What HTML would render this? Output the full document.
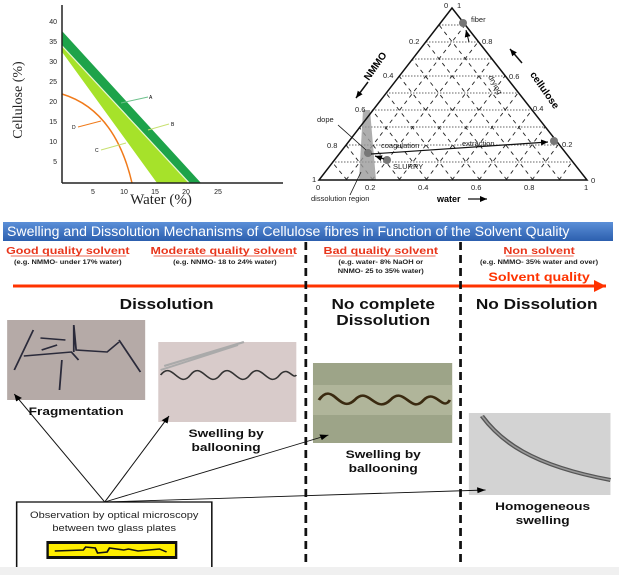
<!DOCTYPE html>
<html><head><meta charset="utf-8"><style>
html,body{margin:0;padding:0;background:#fff;}
svg{display:block;font-family:"Liberation Sans",sans-serif;}
</style></head><body>
<svg width="619" height="575" viewBox="0 0 619 575" xmlns="http://www.w3.org/2000/svg">
<defs>
<linearGradient id="hb" x1="0" y1="0" x2="0" y2="1"><stop offset="0" stop-color="#5b8fd8"/><stop offset="1" stop-color="#2c5fae"/></linearGradient>
<marker id="ah" markerWidth="8" markerHeight="8" refX="7" refY="4" orient="auto" markerUnits="userSpaceOnUse"><path d="M0,1 L7,4 L0,7 z" fill="#000"/></marker>
<marker id="ar" markerWidth="14" markerHeight="12" refX="12" refY="6" orient="auto" markerUnits="userSpaceOnUse"><path d="M0,0 L12,6 L0,12 z" fill="#ff3300"/></marker>
</defs>

<!-- Left chart -->
<polygon points="62,31 201,183 190,183 62,45" fill="#1ea34a"/>
<polygon points="62,46 189,183 157,183 62,52" fill="#a6e22a"/>
<line x1="62" y1="46" x2="189" y2="183" stroke="#e8f5c8" stroke-width="1"/>
<line x1="62" y1="53" x2="156" y2="183" stroke="#fff" stroke-width="1"/>
<path d="M62,94 Q115,110 132,183" fill="none" stroke="#f07a1a" stroke-width="1.5"/>
<line x1="62" y1="5" x2="62" y2="183" stroke="#222" stroke-width="1.5"/>
<line x1="62" y1="183" x2="283" y2="183" stroke="#222" stroke-width="1.5"/>
<g font-size="7" fill="#222" text-anchor="end">
<text x="57" y="24">40</text><text x="57" y="44">35</text><text x="57" y="64">30</text><text x="57" y="84">25</text><text x="57" y="104">20</text><text x="57" y="124">15</text><text x="57" y="144">10</text><text x="57" y="164">5</text>
</g>
<g font-size="7" fill="#222" text-anchor="middle">
<text x="93" y="194">5</text><text x="124" y="194">10</text><text x="155" y="194">15</text><text x="186" y="194">20</text><text x="218" y="194">25</text>
</g>
<text x="161" y="204" font-family="Liberation Serif,serif" font-size="15" text-anchor="middle" fill="#222">Water (%)</text>
<text transform="translate(22,100) rotate(-90)" font-family="Liberation Serif,serif" font-size="14" text-anchor="middle" fill="#222">Cellulose (%)</text>
<line x1="121" y1="103" x2="148" y2="97" stroke="#6cc08a"/><text x="149" y="99" font-size="5">A</text>
<line x1="148" y1="130" x2="169" y2="124" stroke="#c8e070"/><text x="171" y="126" font-size="5">B</text>
<line x1="78" y1="127" x2="101" y2="121" stroke="#f07a1a"/><text x="72" y="129" font-size="5">D</text>
<line x1="101" y1="150" x2="126" y2="143" stroke="#c8e070"/><text x="95" y="152" font-size="5">C</text>

<!-- Ternary -->
<g stroke="#333" stroke-width="0.7" stroke-dasharray="1.5,1.5" fill="none">
<line x1="439" y1="25" x2="465" y2="25"/><line x1="426" y1="42" x2="478" y2="42"/><line x1="412" y1="59" x2="492" y2="59"/><line x1="399" y1="76" x2="505" y2="76"/><line x1="386" y1="93" x2="518" y2="93"/><line x1="372" y1="110" x2="532" y2="110"/><line x1="359" y1="127" x2="545" y2="127"/><line x1="346" y1="145" x2="558" y2="145"/><line x1="332" y1="162" x2="572" y2="162"/>
</g>
<g stroke="#222" stroke-width="0.9" stroke-dasharray="4,4" fill="none">
<line x1="346" y1="180" x2="465" y2="25"/><line x1="372" y1="180" x2="478" y2="42"/><line x1="399" y1="180" x2="492" y2="59"/><line x1="426" y1="180" x2="505" y2="76"/><line x1="452" y1="180" x2="518" y2="93"/><line x1="479" y1="180" x2="532" y2="110"/><line x1="506" y1="180" x2="545" y2="127"/><line x1="532" y1="180" x2="558" y2="145"/><line x1="559" y1="180" x2="572" y2="162"/>
<line x1="560" y1="180" x2="439" y2="25"/><line x1="533" y1="180" x2="426" y2="42"/><line x1="507" y1="180" x2="412" y2="59"/><line x1="480" y1="180" x2="399" y2="76"/><line x1="453" y1="180" x2="386" y2="93"/><line x1="427" y1="180" x2="372" y2="110"/><line x1="400" y1="180" x2="359" y2="127"/><line x1="373" y1="180" x2="346" y2="145"/><line x1="347" y1="180" x2="332" y2="162"/>
</g>
<polygon points="363,110 370,110 376,180 359,180" fill="#9a9a9a" opacity="0.8"/>
<polygon points="452,8 319,180 587,180" fill="none" stroke="#111" stroke-width="1.5"/>
<circle cx="463" cy="23" r="4" fill="#777"/><circle cx="554" cy="141" r="4" fill="#777"/><circle cx="368" cy="153" r="4" fill="#777"/><circle cx="387" cy="160" r="4" fill="#777"/>
<line x1="371" y1="154" x2="548" y2="142" stroke="#111" stroke-width="1.2" marker-end="url(#ah)"/>
<line x1="384" y1="159" x2="375" y2="156" stroke="#111" stroke-width="1.2" marker-end="url(#ah)"/>
<line x1="469" y1="42" x2="466" y2="30" stroke="#111" stroke-width="1" marker-end="url(#ah)"/>
<line x1="338" y1="125" x2="366" y2="150" stroke="#111" stroke-width="0.8"/>
<line x1="350" y1="195" x2="361" y2="172" stroke="#111" stroke-width="0.8"/>
<g font-size="7.5" fill="#222">
<text x="444" y="8">0</text><text x="457" y="8">1</text><text x="471" y="22">fiber</text>
<text x="409" y="44">0.2</text><text x="482" y="44">0.8</text>
<text x="383" y="78">0.4</text><text x="509" y="79">0.6</text>
<text x="355" y="112">0.6</text><text x="533" y="111">0.4</text>
<text x="327" y="148">0.8</text><text x="562" y="147">0.2</text>
<text x="312" y="182">1</text><text x="591" y="183">0</text>
<text x="316" y="190">0</text><text x="365" y="190">0.2</text><text x="418" y="190">0.4</text><text x="471" y="190">0.6</text><text x="524" y="190">0.8</text><text x="584" y="190">1</text>
<text x="317" y="122">dope</text><text x="381" y="148">coagulation</text><text x="462" y="146">extraction</text><text x="393" y="169">SLURRY</text>
<text x="311" y="201">dissolution region</text>
<text transform="translate(488,77) rotate(60)">drying</text>
</g>
<text x="437" y="202" font-size="9" font-weight="bold">water</text>
<line x1="468" y1="199" x2="487" y2="199" stroke="#111" stroke-width="1.2" marker-end="url(#ah)"/>
<text transform="translate(378,68) rotate(-55)" font-size="10" font-weight="bold" text-anchor="middle">NMMO</text>
<line x1="368" y1="82" x2="356" y2="98" stroke="#111" stroke-width="1.5" marker-end="url(#ah)"/>
<text transform="translate(542,92) rotate(55)" font-size="10" font-weight="bold" text-anchor="middle">cellulose</text>
<line x1="522" y1="63" x2="510" y2="49" stroke="#111" stroke-width="1.5" marker-end="url(#ah)"/>

<!-- Header bar -->
<rect x="3" y="222" width="610" height="19" fill="url(#hb)"/>
<text x="7" y="236" font-size="14.1" fill="#fff">Swelling and Dissolution Mechanisms of Cellulose fibres in Function of the Solvent Quality</text>
<line x1="13" y1="286" x2="606" y2="286" stroke="#ff3300" stroke-width="3" marker-end="url(#ar)"/>

<g transform="matrix(1.19,0,0,1,0,0)">
<g font-size="10.5" font-weight="bold" fill="#e8361c" text-anchor="middle">
<text x="57" y="254">Good quality solvent</text>
<text x="188" y="254">Moderate quality solvent</text>
<text x="320" y="254">Bad quality solvent</text>
<text x="453" y="254">Non solvent</text>
</g>
<g stroke="#e8361c" stroke-width="0.8"><line x1="9" y1="256" x2="106" y2="256"/><line x1="129" y1="256" x2="247" y2="256"/><line x1="274" y1="256" x2="366" y2="256"/><line x1="425" y1="256" x2="482" y2="256"/></g>
<g font-size="6.3" font-weight="bold" fill="#222" text-anchor="middle">
<text x="57" y="264">(e.g. NMMO- under 17% water)</text>
<text x="189" y="264">(e.g. NNMO- 18 to 24% water)</text>
<text x="320" y="264">(e.g. water- 8% NaOH or</text>
<text x="320" y="273">NNMO- 25 to 35% water)</text>
<text x="453" y="264">(e.g. NMMO- 35% water and over)</text>
</g>
<text x="453" y="281" font-size="12" font-weight="bold" fill="#ff3300" text-anchor="middle">Solvent quality</text>

<g stroke="#111" stroke-width="2.3" stroke-dasharray="8,5"><line x1="257" y1="242" x2="257" y2="565"/><line x1="387" y1="242" x2="387" y2="565"/></g>

<g font-size="14.5" font-weight="bold" fill="#111" text-anchor="middle">
<text x="140" y="309">Dissolution</text>
<text x="322" y="309">No complete</text>
<text x="322" y="325">Dissolution</text>
<text x="451" y="309">No Dissolution</text>
</g>

<rect x="6" y="320" width="116" height="80" fill="#b5aaa7"/>
<g stroke="#2a2a3a" stroke-width="1.5" fill="none">
<path d="M12,370 L28,330 M20,356 L60,352 L66,360 M34,338 L55,340 M62,352 L62,325 L64,350 L90,352 L100,342 M52,360 L50,390 M100,340 L118,372 M35,350 L48,345"/>
</g>
<rect x="133" y="342" width="116" height="80" fill="#d8cbca"/>
<path d="M135,375 C145,360 150,390 160,375 C170,360 175,390 185,375 C195,360 200,390 210,375 C220,360 225,390 235,375 C242,365 246,380 249,375" fill="none" stroke="#333" stroke-width="1.5"/>
<path d="M135,370 L200,345 M138,366 L205,342" stroke="#aaa" stroke-width="2" fill="none"/>
<rect x="263" y="363" width="117" height="80" fill="#9da488"/>
<rect x="263" y="385" width="117" height="30" fill="#b0b59a"/>
<path d="M268,400 C280,380 285,415 298,400 C310,385 315,415 328,400 C340,385 345,415 356,400 C366,388 372,412 378,400" fill="none" stroke="#3a2a10" stroke-width="2.5"/>
<rect x="394" y="413" width="119" height="82" fill="#d3d3d3"/>
<path d="M405,416 C420,440 445,465 513,480" fill="none" stroke="#555" stroke-width="4"/>
<path d="M405,416 C420,440 445,465 513,480" fill="none" stroke="#999" stroke-width="1.5"/>

<g font-size="11.5" font-weight="bold" fill="#111" text-anchor="middle">
<text x="64" y="415">Fragmentation</text>
<text x="190" y="437">Swelling by</text><text x="190" y="451">ballooning</text>
<text x="322" y="458">Swelling by</text><text x="322" y="472">ballooning</text>
<text x="456" y="510">Homogeneous</text><text x="456" y="524">swelling</text>
</g>

<g stroke="#111" stroke-width="0.9" marker-end="url(#ah)">
<line x1="88" y1="502" x2="12" y2="394"/>
<line x1="88" y1="502" x2="142" y2="416"/>
<line x1="88" y1="502" x2="276" y2="435"/>
<line x1="88" y1="502" x2="408" y2="490"/>
</g>

<rect x="14" y="502" width="164" height="70" fill="#fff" stroke="#111" stroke-width="1.3"/>
<text x="96" y="518" font-size="9.3" fill="#222" text-anchor="middle">Observation by optical microscopy</text>
<text x="96" y="531" font-size="9.3" fill="#222" text-anchor="middle">between two glass plates</text>
<rect x="39" y="541" width="110" height="18" fill="#111"/>
<rect x="41" y="544" width="106" height="12" fill="#ffee00"/>
<path d="M46,551 L70,550 L72,547 L80,548 L82,553 L90,552 L92,548 L104,550 L108,549 L116,551 L134,549 L140,552" fill="none" stroke="#111" stroke-width="1.5"/>
</g>
<rect x="0" y="567" width="619" height="8" fill="#f0f0f0"/>
</svg>
</body></html>
